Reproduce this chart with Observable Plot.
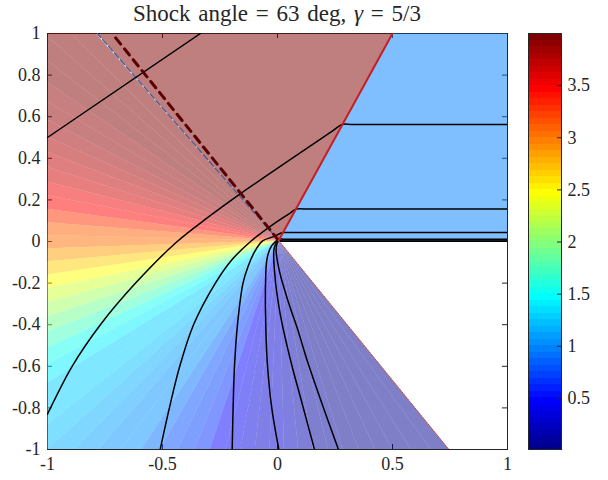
<!DOCTYPE html>
<html><head><meta charset="utf-8">
<script src="https://cdn.jsdelivr.net/npm/d3@7"></script>
<script src="https://cdn.jsdelivr.net/npm/@observablehq/plot@0.6"></script>
<style>
body{margin:0;background:#fff;}
#wrap{position:relative;width:608px;height:480px;font-family:"Liberation Serif","DejaVu Serif",serif;color:#262626;}
#title{position:absolute;left:0;width:554px;top:0px;text-align:center;font-size:23px;line-height:28px;word-spacing:2px;white-space:nowrap;}
#main{position:absolute;left:0;top:0;}
#cbar{position:absolute;left:515px;top:0;}
</style></head><body>
<div id="wrap"><div id="main"></div><div id="cbar"></div>
<div id="title">Shock angle = 63 deg, <i>γ</i> = 5/3</div></div>
<script>
// ---- data ----
const xTicks = [-1, -0.5, 0, 0.5, 1];
const yTicks = [-1, -0.8, -0.6, -0.4, -0.2, 0, 0.2, 0.4, 0.6, 0.8, 1];
const cbarTicks = [0.5, 1, 1.5, 2, 2.5, 3, 3.5];
const colorDomain = [0.01, 4.0];

const apex = [0.005, 0.005];          // corner / fan centre
const shockTop = [0.5, 1];            // shock line end
const machLineTop = [-0.719, 1];      // thick dashed line end
const fanHeadTop = [-0.784, 1];       // thin dashed line end (fan head)
const wedgeEnd = [0.745, -1];         // wedge surface end
const upstreamValue = 1.0;
const postShockValue = 3.98;

// fan sector boundaries (deg, from +x axis) and sector values
const fanAngles = [128.6, 132.2, 135.7, 139.3, 142.9, 146.4, 150.0, 153.6, 157.1, 160.7, 164.3, 167.8, 171.4, 175.0, 178.5, 182.1, 185.7, 189.2, 192.8, 196.4, 199.9, 203.5, 207.1, 210.6, 214.2, 217.8, 221.3, 224.9, 228.5, 232.0, 235.6, 239.2, 242.7, 246.3, 249.9, 253.4, 257.0, 260.6, 264.1, 267.7, 271.3, 274.8, 278.4, 282.0, 285.5, 289.1, 292.7, 296.2, 299.8, 303.4, 306.4];
const fanValues = [3.99, 3.99, 3.97, 3.95, 3.92, 3.89, 3.86, 3.80, 3.74, 3.65, 3.56, 3.46, 3.28, 3.12, 3.01, 2.83, 2.63, 2.48, 2.29, 2.08, 1.90, 1.70, 1.52, 1.40, 1.30, 1.26, 1.20, 1.14, 1.10, 1.06, 1.02, 0.90, 0.81, 0.72, 0.64, 0.50, 0.42, 0.36, 0.31, 0.26, 0.20, 0.15, 0.12, 0.09, 0.07, 0.05, 0.04, 0.03, 0.02, 0.01];

// streamlines
const stream1 = [[-1, 0.5], [-0.335, 1]];
const stream2 = [[1, 0.5625], [0.33, 0.5625], [0.281, 0.5625], [0.24, 0.532], [-0.17, 0.223], [-0.3, 0.118], [-0.436, 0.0], [-0.617, -0.2], [-0.77, -0.4], [-0.893, -0.6], [-0.987, -0.8], [-1, -0.83]];
const stream3 = [[1, 0.156], [0.12, 0.156], [0.082, 0.156], [0.05, 0.133], [-0.016, 0.085], [-0.117, 0.0], [-0.2, -0.09], [-0.27, -0.2], [-0.365, -0.4], [-0.425, -0.6], [-0.47, -0.8], [-0.51, -1]];
const stream4 = [[1, 0.043], [0.05, 0.043], [0.024, 0.043], [-0.02, 0.022], [-0.065, 0.003], [-0.1, -0.05], [-0.128, -0.12], [-0.15, -0.2], [-0.174, -0.4], [-0.187, -0.6], [-0.193, -0.8], [-0.197, -1]];
const stream5 = [[1, 0.011], [0.03, 0.011], [0.008, 0.011], [-0.025, -0.02], [-0.045, -0.08], [-0.052, -0.2], [-0.052, -0.35], [-0.045, -0.572], [-0.025, -0.8], [0.006, -1]];
const stream6 = [[1, 0.003], [0.02, 0.003], [0.004, 0.003], [-0.014, -0.03], [-0.012, -0.155], [0.012, -0.35], [0.057, -0.572], [0.1, -0.75], [0.161, -1]];
const stream7 = [[1, 0.0007], [0.02, 0.0007], [0.003, 0.0007], [-0.006, -0.04], [0.01, -0.15], [0.05, -0.3], [0.09, -0.43], [0.129, -0.572], [0.2, -0.8], [0.265, -1]];
const streams = [stream1, stream2, stream3, stream4, stream5, stream6, stream7];

// ---- jet colormap (MATLAB jet(64)) ----
function jet(m) {
  const n = Math.ceil(m / 4), u = [];
  for (let i = 1; i <= n; i++) u.push(i / n);
  for (let i = 1; i < n; i++) u.push(1);
  for (let i = n; i >= 1; i--) u.push(i / n);
  const g0 = Math.ceil(n / 2) - (m % 4 === 1 ? 1 : 0);
  const rows = Array.from({length: m}, () => [0, 0, 0]);
  for (let k = 0; k < u.length; k++) {
    const g = g0 + k + 1, r = g + n, b = g - n;
    if (r >= 1 && r <= m) rows[r - 1][0] = u[k];
    if (g >= 1 && g <= m) rows[g - 1][1] = u[k];
    if (b >= 1 && b <= m) rows[b - 1][2] = u[k];
  }
  return rows.map(([r, g, b]) => d3.rgb(r * 255, g * 255, b * 255).formatHex());
}
const NC = 64;
const jet64 = jet(NC);
const span = colorDomain[1] - colorDomain[0];
const thresholds = d3.range(1, NC).map(i => colorDomain[0] + i * span / NC);
const colorScale = {type: "threshold", domain: thresholds, range: jet64};

// ---- build tables ----
const R = 3;
const polys = [];
fanValues.forEach((v, i) => {
  const a1 = fanAngles[i] * Math.PI / 180, a2 = fanAngles[i + 1] * Math.PI / 180;
  [[apex[0], apex[1]], [apex[0] + R * Math.cos(a1), apex[1] + R * Math.sin(a1)], [apex[0] + R * Math.cos(a2), apex[1] + R * Math.sin(a2)]]
    .forEach(p => polys.push({id: "fan" + i, x: p[0], y: p[1], v}));
});
[apex, fanHeadTop, shockTop].forEach(p => polys.push({id: "post", x: p[0], y: p[1], v: postShockValue}));
[apex, shockTop, [1, 1], [1, 0], [apex[0], 0]].forEach(p => polys.push({id: "up", x: p[0], y: p[1], v: upstreamValue}));

const streamRows = [];
streams.forEach((s, i) => s.forEach(p => streamRows.push({id: i, x: p[0], y: p[1]})));
const seg = (a, b) => [{x: a[0], y: a[1]}, {x: b[0], y: b[1]}];

const fmt = d => String(d);
const font = {fontFamily: "'Liberation Serif', 'DejaVu Serif', serif", fontSize: "18px", color: "#262626", background: "transparent"};

const main = Plot.plot({
  width: 520, height: 480,
  marginLeft: 47, marginRight: 13, marginTop: 33, marginBottom: 31,
  style: font,
  x: {domain: [-1, 1], ticks: xTicks, tickSize: 0, tickPadding: 8, tickFormat: fmt, label: null},
  y: {domain: [-1, 1], ticks: yTicks, tickSize: 0, tickPadding: 7, tickFormat: fmt, label: null},
  color: colorScale,
  marks: [
    Plot.frame({stroke: "#262626"}),
    Plot.ruleX(xTicks, {x: d => d, insetTop: 411, stroke: "#262626"}),
    Plot.ruleX(xTicks, {x: d => d, insetBottom: 411, stroke: "#262626"}),
    Plot.ruleY(yTicks, {y: d => d, insetRight: 455, stroke: "#262626"}),
    Plot.ruleY(yTicks, {y: d => d, insetLeft: 455, stroke: "#262626"}),
    Plot.line(polys, {x: "x", y: "y", z: "id", fill: "v", fillOpacity: 0.5, stroke: "none", clip: true}),
    Plot.line(seg(apex, fanHeadTop), {x: "x", y: "y", stroke: "#3c5a9a", strokeWidth: 1.2, strokeDasharray: "6,3", clip: true}),
    Plot.line(streamRows, {x: "x", y: "y", z: "id", stroke: "black", strokeWidth: 1.5, curve: "catmull-rom", clip: true}),
    Plot.line(seg(apex, machLineTop), {x: "x", y: "y", stroke: "#5a0000", strokeWidth: 3, strokeDasharray: "8,6", clip: true}),
    Plot.line(seg(apex, shockTop), {x: "x", y: "y", stroke: "#c81e1e", strokeWidth: 2, clip: true}),
    Plot.line(seg(apex, wedgeEnd), {x: "x", y: "y", stroke: "#d04a2a", strokeWidth: 1, strokeDasharray: "1.5,1.5", clip: true})
  ]
});
document.getElementById("main").appendChild(main);

const edges = [colorDomain[0], ...thresholds, colorDomain[1]];
const bins = d3.range(NC).map(i => ({lo: edges[i], hi: edges[i + 1], mid: (edges[i] + edges[i + 1]) / 2}));
const cbar = Plot.plot({
  width: 93, height: 480,
  marginLeft: 13, marginRight: 47, marginTop: 33, marginBottom: 31,
  style: font,
  x: {domain: [0, 1], axis: null},
  y: {domain: colorDomain, ticks: cbarTicks, tickSize: 0, tickPadding: 6, axis: "right", tickFormat: fmt, label: null},
  color: colorScale,
  marks: [
    Plot.rect(bins, {x1: 0, x2: 1, y1: "lo", y2: "hi", fill: "mid", shapeRendering: "crispEdges"}),
    Plot.ruleY(cbarTicks, {y: d => d, insetLeft: 29, stroke: "#262626"}),
    Plot.frame({stroke: "#262626"})
  ]
});
document.getElementById("cbar").appendChild(cbar);
</script>
</body></html>
